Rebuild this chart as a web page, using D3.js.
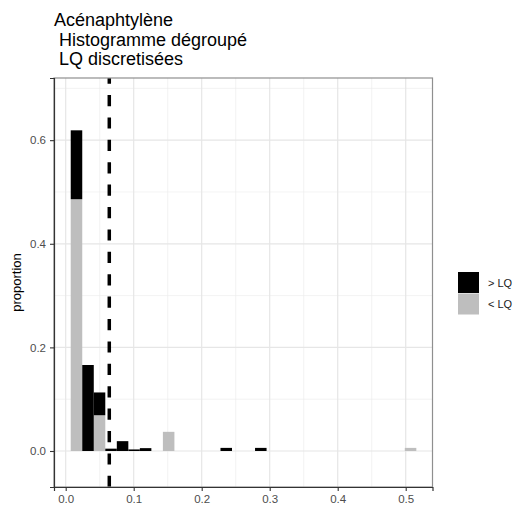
<!DOCTYPE html>
<html><head><meta charset="utf-8">
<script src="https://cdn.jsdelivr.net/npm/d3@7"></script>
<style>body{margin:0;background:#fff}svg{display:block;font-family:"Liberation Sans",Arial,sans-serif}</style>
</head><body><svg id="c" width="521" height="509"></svg>
<script>
// ---- data ----
const titleLines = ["Acénaphtylène", " Histogramme dégroupé", " LQ discretisées"];
const binLeft = [0.0074, 0.02434, 0.04128, 0.05822, 0.07516, 0.0921, 0.10904, 0.14292, 0.22762, 0.27844, 0.49866];
const binWidth = 0.01694;
const belowLQ = [0.486, 0, 0.069, 0, 0, 0, 0, 0.037, 0, 0, 0.006];   // "< LQ" (grey)
const aboveLQ = [0.133, 0.166, 0.044, 0.0045, 0.019, 0.003, 0.0055, 0, 0.006, 0.006, 0];   // "> LQ" (black)
const lqLine = 0.0641;
const xTicks = [0, 0.1, 0.2, 0.3, 0.4, 0.5];
const xMinor = [0.05, 0.15, 0.25, 0.35, 0.45];
const yTicks = [0, 0.2, 0.4, 0.6];
const yMinor = [0.1, 0.3, 0.5, 0.7];
const legendLabels = ["> LQ", "< LQ"];
const colors = {gt: "#000000", lt: "#bebebe"};

// ---- layout ----
const svg = d3.select("#c");
const P = {l: 54, r: 432.5, t: 78, b: 487};
const x = d3.scaleLinear().domain([-0.0172, 0.5394]).range([P.l, P.r]);
const y = d3.scaleLinear().domain([-0.0695, 0.72]).range([P.b, P.t]);

svg.append("rect").attr("x", P.l).attr("y", P.t).attr("width", P.r - P.l).attr("height", P.b - P.t).attr("fill", "#fff");

const grid = svg.append("g");
grid.selectAll(".xm").data(xMinor).join("line").attr("x1", d => x(d)).attr("x2", d => x(d)).attr("y1", P.t).attr("y2", P.b).attr("stroke", "#ebebeb").attr("stroke-width", 0.6);
grid.selectAll(".ym").data(yMinor).join("line").attr("y1", d => y(d)).attr("y2", d => y(d)).attr("x1", P.l).attr("x2", P.r).attr("stroke", "#ebebeb").attr("stroke-width", 0.6);
grid.selectAll(".xM").data(xTicks).join("line").attr("x1", d => x(d)).attr("x2", d => x(d)).attr("y1", P.t).attr("y2", P.b).attr("stroke", "#e6e6e6").attr("stroke-width", 1.2);
grid.selectAll(".yM").data(yTicks).join("line").attr("y1", d => y(d)).attr("y2", d => y(d)).attr("x1", P.l).attr("x2", P.r).attr("stroke", "#e6e6e6").attr("stroke-width", 1.2);

// ---- stacked bars ----
const rows = binLeft.map((b, i) => ({x0: b, lt: belowLQ[i], gt: aboveLQ[i]}));
const stack = d3.stack().keys(["lt", "gt"])(rows);
svg.append("g").selectAll("g").data(stack).join("g").attr("fill", s => colors[s.key])
  .selectAll("rect").data(s => s.filter(d => d[1] - d[0] > 0)).join("rect")
  .attr("x", d => x(d.data.x0)).attr("width", d => x(d.data.x0 + binWidth) - x(d.data.x0))
  .attr("y", d => y(d[1])).attr("height", d => y(d[0]) - y(d[1]));

// ---- dashed LQ line ----
svg.append("line").attr("x1", x(lqLine)).attr("x2", x(lqLine)).attr("y1", P.b).attr("y2", P.t)
  .attr("stroke", "#000").attr("stroke-width", 3.5).attr("stroke-dasharray", "11.2,11.2");

// ---- panel border ----
svg.append("rect").attr("x", P.l).attr("y", P.t).attr("width", P.r - P.l).attr("height", P.b - P.t)
  .attr("fill", "none").attr("stroke", "#8f8f8f").attr("stroke-width", 1.2);

// ---- axes ----
const xa = svg.append("g").attr("transform", `translate(0,${P.b})`)
  .call(d3.axisBottom(x).tickValues(xTicks).tickFormat(d3.format(".1f")).tickSize(4).tickPadding(4));
const ya = svg.append("g").attr("transform", `translate(${P.l},0)`)
  .call(d3.axisLeft(y).tickValues(yTicks).tickFormat(d3.format(".1f")).tickSize(4).tickPadding(4));
[xa, ya].forEach(a => {
  a.select(".domain").attr("stroke", "#333").attr("stroke-width", 1.2);
  a.selectAll(".tick line").attr("stroke", "#333").attr("stroke-width", 1.1);
  a.selectAll(".tick text").attr("fill", "#4d4d4d").style("font-size", "11.5px").style("font-family", "'Liberation Sans',Arial,sans-serif");
});

// ---- labels ----
svg.append("text").attr("transform", `translate(21,${(P.t + P.b) / 2}) rotate(-90)`)
  .attr("text-anchor", "middle").style("font-size", "13px").attr("fill", "#000").text("proportion");

svg.append("g").selectAll("text").data(titleLines).join("text")
  .attr("x", P.l).attr("y", (d, i) => 26 + i * 19.5)
  .attr("xml:space", "preserve").style("white-space", "pre")
  .style("font-size", "18px").attr("fill", "#000").text(d => d);

// ---- legend ----
const lg = svg.append("g");
const keyCols = [colors.gt, colors.lt];
lg.selectAll("rect").data(legendLabels).join("rect")
  .attr("x", 458).attr("y", (d, i) => 272 + i * 21.5).attr("width", 21).attr("height", 21)
  .attr("fill", (d, i) => keyCols[i]);
lg.selectAll("text").data(legendLabels).join("text")
  .attr("x", 488).attr("y", (d, i) => 283 + i * 21.5).attr("dy", "0.35em")
  .style("font-size", "11px").attr("fill", "#1a1a1a").text(d => d);
</script></body></html>
